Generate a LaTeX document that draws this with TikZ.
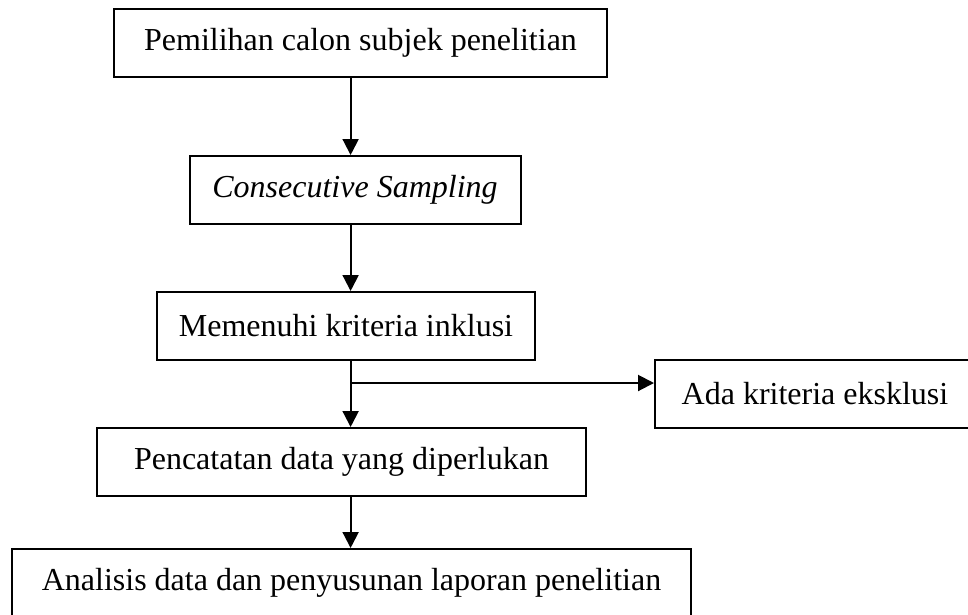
\documentclass[tikz,border=0pt]{standalone}
\usepackage{fontspec}
\setmainfont{Liberation Serif}
\usetikzlibrary{arrows.meta, positioning, calc}
\definecolor{inkc}{RGB}{0,0,0}
\tikzset{
  box/.style={
    rectangle, draw=inkc, line width=2pt, text=inkc,
    inner sep=0pt, minimum height=68pt,
    font=\fontsize{32}{38}\selectfont
  },
  arr/.style={-{Triangle[length=16pt, width=16pt]}, line width=2pt, draw=inkc},
}
\begin{document}
\begin{tikzpicture}[x=1pt, y=-1pt]

  \useasboundingbox (0,0) rectangle (968,614);

  % the steps, top to bottom
  \node[box, minimum width=493pt] (b1) at (360.5,43)
    {Pemilihan calon subjek penelitian};
  \node[box, minimum width=331pt] (b2) at (355,190)
    {\textit{Consecutive Sampling}};
  \node[box, minimum width=378pt] (b3) at (346,326)
    {Memenuhi kriteria inklusi};
  \node[box, minimum width=320pt] (ex) at (815,394)
    {Ada kriteria eksklusi};
  \node[box, minimum width=489pt] (b4) at (341.5,462)
    {Pencatatan data yang diperlukan};
  \node[box, minimum width=679pt] (b5) at (351.5,583)
    {Analisis data dan penyusunan laporan penelitian};

  \coordinate (spine) at (350.6,0);
  \coordinate (split) at (350.6,383);

  \draw[arr] (b1.south -| spine) -- (b2.north -| spine);
  \draw[arr] (b2.south -| spine) -- (b3.north -| spine);
  \draw[arr] (b3.south -| spine) -- (b4.north -| spine);
  \draw[arr] (split) -- (split -| ex.west);
  \draw[arr] (b4.south -| spine) -- (b5.north -| spine);

\end{tikzpicture}
\end{document}
